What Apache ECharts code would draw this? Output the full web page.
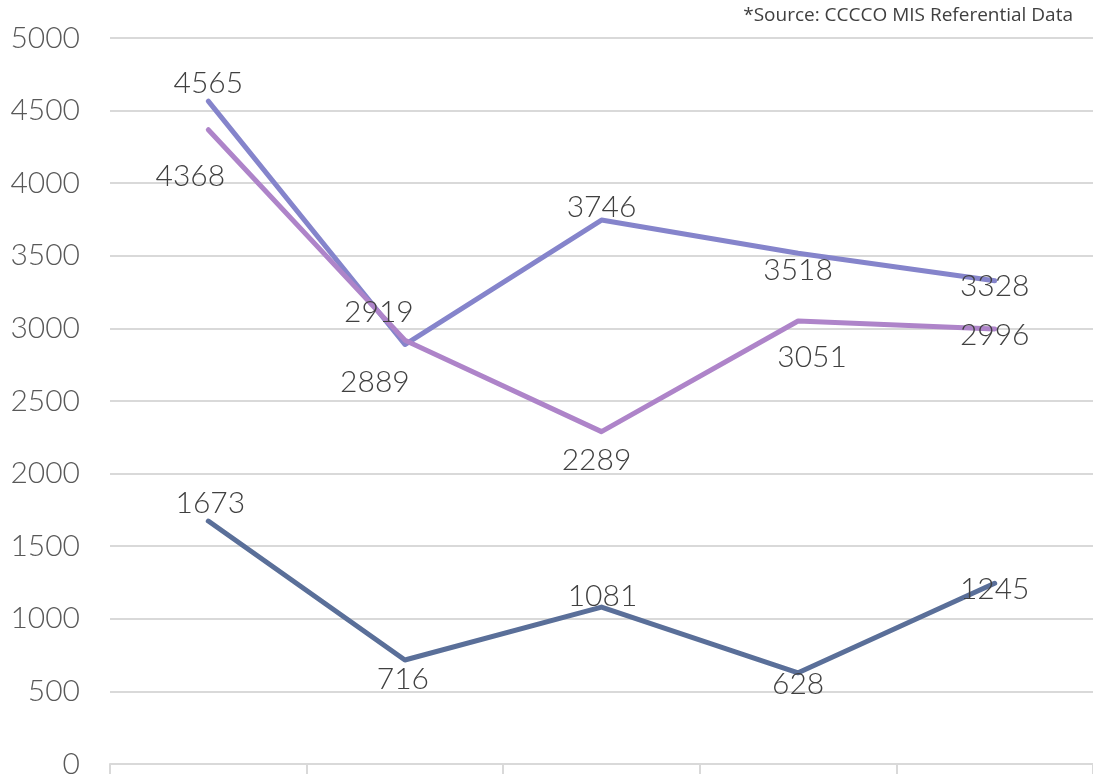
<!DOCTYPE html>
<html>
<head>
<meta charset="utf-8">
<script src="https://cdn.jsdelivr.net/npm/echarts@6/dist/echarts.min.js"></script>
<style>
html,body{margin:0;padding:0;background:#fff;}
#chart{width:1093px;height:779px;}
</style>
</head>
<body>
<div id="chart"></div>
<script>
const categories = ['A', 'B', 'C', 'D', 'E'];
const seriesUpper = [4565, 2889, 3746, 3518, 3328];
const seriesMiddle = [4368, 2919, 2289, 3051, 2996];
const seriesLower = [1673, 716, 1081, 628, 1245];
const yTicks = [0, 500, 1000, 1500, 2000, 2500, 3000, 3500, 4000, 4500, 5000];
const sourceNote = '*Source: CCCCO MIS Referential Data';

// label placement offsets (px) relative to each point
const offUpper = [[0, -21], [-30, 35], [0, -16], [0, 14], [0, 3]];
const offMiddle = [[-18, 44], [-26, -31], [-5, 26], [14, 33], [0, 3]];
const offLower = [[2, -21], [-2, 16], [1, -14], [0, 9], [0, 3]];

const FONT = 'Lato';

function mk(name, values, offs, color) {
  return {
    name: name,
    type: 'line',
    data: values.map((v, i) => ({
      value: v,
      label: { offset: [offs[i][0], offs[i][1] + 3] }
    })),
    symbol: 'circle',
    symbolSize: 0.01,
    showSymbol: true,
    lineStyle: { color: color, width: 5, cap: 'round', join: 'round' },
    itemStyle: { color: color },
    label: {
      show: true,
      position: 'inside',
      color: '#404040',
      fontSize: 30,
      fontWeight: 300,
      fontFamily: FONT
    },
    emphasis: { disabled: true },
    animation: false
  };
}

const chart = echarts.init(document.getElementById('chart'));
chart.setOption({
  animation: false,
  grid: { left: 110, right: -2, top: 38, bottom: 9, containLabel: false },
  xAxis: {
    type: 'category',
    data: categories,
    boundaryGap: true,
    axisLine: { show: true, lineStyle: { color: '#d9d9d9', width: 2 } },
    axisTick: { show: true, length: 10, lineStyle: { color: '#d9d9d9', width: 2 } },
    axisLabel: { show: false },
    splitLine: { show: false }
  },
  yAxis: {
    type: 'value',
    min: yTicks[0],
    max: yTicks[yTicks.length - 1],
    interval: 500,
    axisLine: { show: false },
    axisTick: { show: false },
    axisLabel: {
      color: '#595959', fontSize: 30, fontWeight: 300, fontFamily: FONT, margin: 30,
      formatter: v => String(v)
    },
    splitLine: { lineStyle: { color: '#d9d9d9', width: 2 } }
  },
  graphic: [{
    type: 'text',
    right: 20,
    top: 6,
    style: { text: sourceNote, fill: '#404040', font: '19px "Open Sans"' }
  }],
  series: [
    mk('Upper', seriesUpper, offUpper, '#8584CB'),
    mk('Middle', seriesMiddle, offMiddle, '#AE84C9'),
    mk('Lower', seriesLower, offLower, '#5A6F99')
  ]
});
</script>
</body>
</html>
